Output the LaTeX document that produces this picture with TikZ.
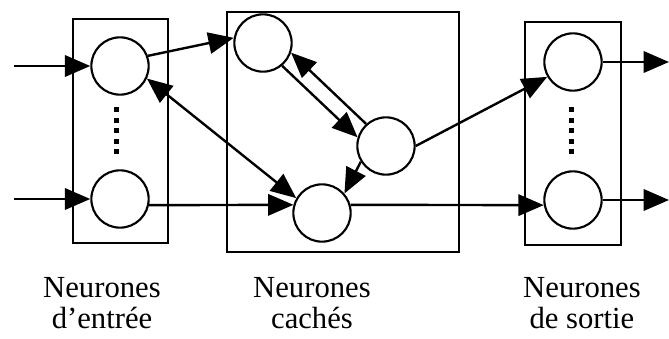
\documentclass[tikz,border=0pt]{standalone}
\usepackage{fontspec}
\setmainfont{Liberation Serif}
\usetikzlibrary{arrows.meta}

\begin{document}
\begin{tikzpicture}[x=0.75pt,y=-0.75pt,
  neurone/.style={draw,circle,line width=1.6pt,minimum size=43pt,inner sep=0pt},
  fleche/.style={-{Triangle[length=19pt,width=16pt]},line width=1.8pt},
  double fleche/.style={{Triangle[length=19pt,width=16pt]}-{Triangle[length=19pt,width=16pt]},line width=1.8pt},
  couche/.style={line width=1.6pt},
  legende/.style={anchor=north,align=center,inner sep=0pt,
    font=\fontsize{23}{23}\selectfont}]
\useasboundingbox (0,0) rectangle (669,339);

% couches
\draw[couche] (73,19) rectangle (168,243);
\draw[couche] (227,12) rectangle (459,252);
\draw[couche] (525,22) rectangle (621,245);

% neurones
\node[neurone] (in1) at (120,66) {};
\node[neurone] (in2) at (120,199) {};
\node[neurone] (h1) at (263,43) {};
\node[neurone] (h2) at (386,146) {};
\node[neurone] (h3) at (322,213) {};
\node[neurone] (out1) at (573,62) {};
\node[neurone] (out2) at (573,200) {};

% pointilles
\foreach \d in {109,120,130,141,151} {
  \fill (113.5,{\d-2.5}) rectangle ++(5.5,5.5);
  \fill (568.5,{\d-2.5}) rectangle ++(5.5,5.5);
}

% entrees et sorties
\coordinate (e1) at (14,66);
\coordinate (e2) at (14,199);
\coordinate (s1) at (669,62);
\coordinate (s2) at (669,200);
\draw[fleche] (e1) -- (in1);
\draw[fleche] (e2) -- (in2);
\draw[fleche] (out1) -- (s1);
\draw[fleche] (out2) -- (s2);

% connexions
\draw[fleche] (in1.20) -- (h1.170);
\draw[double fleche] (in1.-25) -- (h3.150);
\draw[fleche] (in2.-12) -- (h3.164);
\draw[fleche] (h1.-50) -- (h2.163);
\draw[fleche] (h2.132) -- (h1.-19);
\draw[fleche] (h2.212) -- (h3.41);
\draw[fleche] (h2.east) -- (out1.210);
\draw[fleche] (h3.16) -- (out2.190);

% legendes
\node[legende] (lentree) at (102,277) {Neurones\\d’entrée};
\node[legende] (lcache) at (312,277) {Neurones\\cachés};
\node[legende] (lsortie) at (582,277) {Neurones\\de sortie};
\end{tikzpicture}
\end{document}
